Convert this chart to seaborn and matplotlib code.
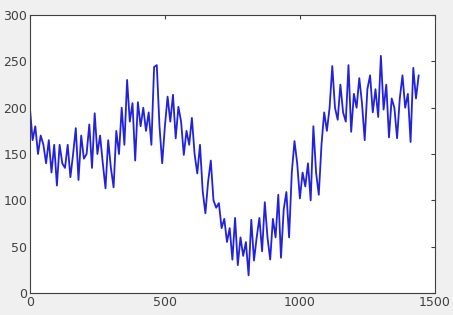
import matplotlib
matplotlib.use("Agg")
import matplotlib.pyplot as plt
import seaborn as sns
import numpy as np
import pandas as pd

x_values = list(range(0, 1450, 10))
y_values = [
    200, 165, 180, 150, 170, 160, 140, 165, 130, 160,
    116, 160, 140, 135, 160, 125, 150, 178, 122, 170,
    145, 150, 182, 135, 194, 150, 170, 140, 113, 165,
    135, 114, 175, 150, 200, 160, 230, 185, 205, 143,
    206, 180, 200, 175, 195, 160, 244, 246, 180, 140,
    180, 212, 185, 214, 167, 201, 185, 149, 175, 160,
    189, 150, 129, 160, 110, 86, 120, 143, 100, 92,
    97, 70, 80, 55, 70, 36, 81, 30, 60, 40,
    55, 19, 79, 35, 60, 81, 45, 98, 60, 36,
    80, 60, 106, 38, 90, 109, 60, 130, 164, 140,
    102, 130, 115, 140, 100, 180, 130, 106, 160, 195,
    175, 200, 245, 200, 187, 225, 195, 185, 246, 174,
    215, 200, 232, 205, 165, 220, 235, 195, 220, 190,
    256, 198, 225, 168, 210, 200, 167, 210, 235, 200,
    215, 163, 243, 210, 235,
]
x_ticks = [0, 500, 1000, 1500]
y_ticks = [0, 50, 100, 150, 200, 250, 300]

df = pd.DataFrame({"x": x_values, "y": y_values})

sns.set_style("white")
fig = plt.figure(figsize=(4.53, 3.15), dpi=100)
fig.patch.set_facecolor("#f0f0f0")
ax = fig.add_axes([0.066, 0.070, 0.894, 0.882])
ax.set_facecolor("white")

sns.lineplot(data=df, x="x", y="y", ax=ax, color="#2222dd", linewidth=1.3)

ax.set_xlim(0, 1500)
ax.set_ylim(0, 300)
ax.set_xticks(x_ticks)
ax.set_yticks(y_ticks)
ax.set_xlabel("")
ax.set_ylabel("")
ax.tick_params(direction="in", length=3, width=0.8, colors="#404040",
               labelsize=9, top=True, right=True, labeltop=False, labelright=False,
               pad=2)
for s in ax.spines.values():
    s.set_color("#404040")
    s.set_linewidth(0.8)
    s.set_visible(True)

fig.savefig("out.png", dpi=100, facecolor=fig.get_facecolor())
